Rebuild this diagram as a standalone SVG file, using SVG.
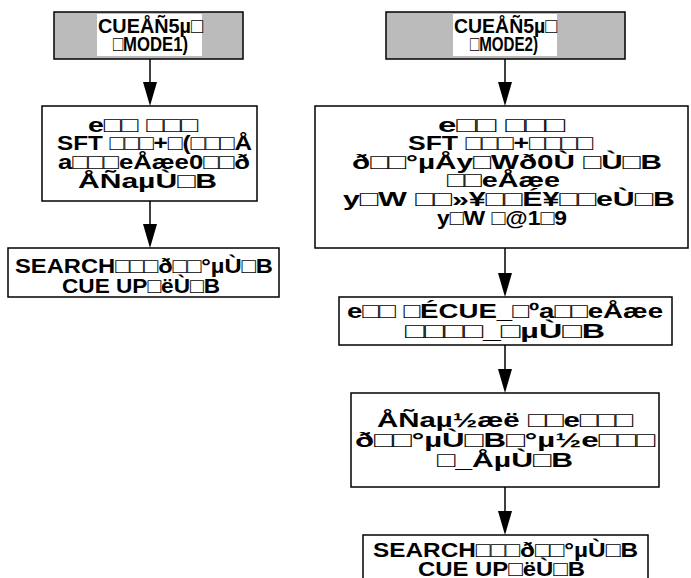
<svg xmlns="http://www.w3.org/2000/svg" width="691" height="578" viewBox="0 0 691 578">
<defs>
<style>
.box{fill:#fff;stroke:#000;stroke-width:1.5}
.gray{fill:#bbbbbb;stroke:#000;stroke-width:1.5}
.win{fill:#fff;stroke:none}
.t{font-family:"Liberation Sans Narrow","Liberation Sans",Arial,sans-serif;font-size:21px;font-weight:bold;fill:#000}
.c{stroke:#000;stroke-width:1.5;fill:none}
</style>
</defs>
<g id="connectors">
<path class="c" d="M150,59 V82"/><path d="M143,82 L157,82 L150,106 Z"/>
<path class="c" d="M150,201 V224"/><path d="M143,224 L157,224 L150,248 Z"/>
<path class="c" d="M505,59 V82"/><path d="M498,82 L512,82 L505,106 Z"/>
<path class="c" d="M505,248 V273"/><path d="M498,273 L512,273 L505,297 Z"/>
<path class="c" d="M505,345 V369"/><path d="M498,369 L512,369 L505,393 Z"/>
<path class="c" d="M505,487 V511"/><path d="M498,511 L512,511 L505,535 Z"/>
</g>
<g id="n1">
<rect class="gray" x="54" y="12" width="189" height="47"/>
<rect class="win" x="97" y="14" width="105" height="42"/>
<text class="t" x="98" y="33" textLength="105" lengthAdjust="spacingAndGlyphs">CUEÅÑ5µ□</text>
<text class="t" x="113" y="51" textLength="75" lengthAdjust="spacingAndGlyphs">□MODE1)</text>
</g>
<g id="n2">
<rect class="box" x="42" y="106" width="215" height="95"/>
<text class="t" x="88" y="132" textLength="110" lengthAdjust="spacingAndGlyphs">e□□ □□□</text>
<text class="t" x="57" y="150" textLength="195" lengthAdjust="spacingAndGlyphs">SFT □□□+□(□□□Å</text>
<text class="t" x="58" y="169" textLength="192" lengthAdjust="spacingAndGlyphs">a□□□eÅæe0□□ð</text>
<text class="t" x="78" y="188" textLength="139" lengthAdjust="spacingAndGlyphs">ÅÑaµÙ□B</text>
</g>
<g id="n3">
<rect class="box" x="8" y="248" width="271" height="49"/>
<text class="t" x="15" y="273" textLength="258" lengthAdjust="spacingAndGlyphs">SEARCH□□□ð□□°µÙ□B</text>
<text class="t" x="62" y="293" textLength="158" lengthAdjust="spacingAndGlyphs">CUE UP□ëÙ□B</text>
</g>
<g id="n4">
<rect class="gray" x="386" y="12" width="239" height="47"/>
<rect class="win" x="453" y="14" width="104" height="42"/>
<text class="t" x="454" y="33" textLength="103" lengthAdjust="spacingAndGlyphs">CUEÅÑ5µ□</text>
<text class="t" x="470" y="51" textLength="68" lengthAdjust="spacingAndGlyphs">□MODE2)</text>
</g>
<g id="n5">
<rect class="box" x="315" y="106" width="373" height="142"/>
<text class="t" x="438" y="132" textLength="127" lengthAdjust="spacingAndGlyphs">e□□ □□□</text>
<text class="t" x="408" y="150" textLength="185" lengthAdjust="spacingAndGlyphs">SFT □□□+□□□□</text>
<text class="t" x="352" y="169" textLength="310" lengthAdjust="spacingAndGlyphs">ð□□°µÅy□Wð0Ù □Ù□B</text>
<text class="t" x="447" y="187" textLength="113" lengthAdjust="spacingAndGlyphs">□□eÅæe</text>
<text class="t" x="343" y="206" textLength="332" lengthAdjust="spacingAndGlyphs">y□W □□»¥□□É¥□□eÙ□B</text>
<text class="t" x="437" y="225" textLength="130" lengthAdjust="spacingAndGlyphs">y□W □@1□9</text>
</g>
<g id="n6">
<rect class="box" x="339" y="297" width="333" height="48"/>
<text class="t" x="347" y="318" textLength="316" lengthAdjust="spacingAndGlyphs">e□□ □ÉCUE_□ºa□□eÅæe</text>
<text class="t" x="405" y="338" textLength="200" lengthAdjust="spacingAndGlyphs">□□□□_□µÙ□B</text>
</g>
<g id="n7">
<rect class="box" x="351" y="393" width="308" height="94"/>
<text class="t" x="377" y="427" textLength="256" lengthAdjust="spacingAndGlyphs">ÅÑaµ½æë □□e□□□</text>
<text class="t" x="355" y="447" textLength="300" lengthAdjust="spacingAndGlyphs">ð□□°µÙ□B□°µ½e□□□</text>
<text class="t" x="437" y="467" textLength="136" lengthAdjust="spacingAndGlyphs">□_ÅµÙ□B</text>
</g>
<g id="n8">
<rect class="box" x="363" y="535" width="285" height="50"/>
<text class="t" x="373" y="557" textLength="265" lengthAdjust="spacingAndGlyphs">SEARCH□□□ð□□°µÙ□B</text>
<text class="t" x="418" y="576" textLength="167" lengthAdjust="spacingAndGlyphs">CUE UP□ëÙ□B</text>
</g>
</svg>
